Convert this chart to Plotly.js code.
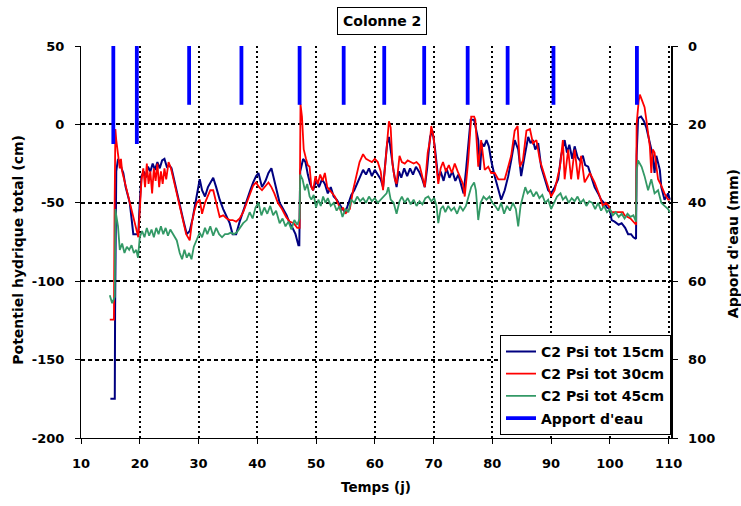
<!DOCTYPE html>
<html>
<head>
<meta charset="utf-8">
<script src="https://cdn.plot.ly/plotly-3.0.1.min.js"></script>
<style>html,body{margin:0;padding:0;background:#fff;}#chart{width:741px;height:506px;}</style>
</head>
<body>
<div id="chart"></div>
<script>
// Potentiel hydrique total (cm) — [jour, valeur]
const psi15 = [[15.0,-175],[15.75,-175],[15.8,-120],[15.85,-60],[16.0,-30],[16.3,-22],[16.6,-24],[16.9,-28],[17.2,-31],[17.6,-40],[18.0,-46],[18.3,-50],[18.6,-60],[18.9,-70],[19.3,-70],[19.75,-70],[20.0,-50],[20.3,-33],[20.7,-30],[21.0,-34],[21.4,-27],[21.8,-30],[22.2,-25],[22.6,-29],[23.0,-24],[23.4,-28],[23.8,-23],[24.2,-22],[24.6,-27],[25.0,-26],[25.4,-28],[25.8,-35],[26.3,-42],[26.8,-52],[27.4,-61],[28.0,-70],[28.5,-68],[29.0,-60],[29.4,-52],[29.7,-46],[30.2,-35],[30.6,-42],[31.1,-46],[31.6,-40],[32.0,-37],[32.5,-34],[33.0,-40],[33.6,-48],[34.2,-54],[34.8,-59],[35.3,-63],[35.8,-70],[36.4,-70],[37.0,-62],[37.6,-55],[38.2,-48],[38.8,-42],[39.3,-37],[39.8,-33],[40.2,-31],[40.8,-40],[41.4,-36],[41.9,-31],[42.4,-28],[42.9,-36],[43.3,-44],[43.8,-50],[44.4,-54],[45.0,-58],[45.5,-63],[46.0,-66],[46.5,-70],[47.0,-77],[47.15,-77],[47.3,-30],[47.8,-22],[48.2,-24],[48.6,-32],[49.0,-38],[49.5,-42],[50.0,-36],[50.5,-40],[51.0,-35],[51.5,-38],[52.0,-44],[52.5,-40],[53.0,-46],[53.5,-48],[54.0,-51],[54.5,-54],[55.0,-56],[55.5,-50],[56.0,-45],[56.5,-42],[57.0,-38],[57.5,-33],[58.0,-29],[58.5,-32],[59.0,-28],[59.5,-33],[60.0,-29],[60.5,-32],[61.0,-35],[61.4,-40],[61.8,-25],[62.1,-12],[62.4,-8],[62.8,-20],[63.2,-30],[63.7,-40],[64.1,-30],[64.5,-34],[65.0,-28],[65.5,-33],[66.0,-28],[66.5,-32],[67.0,-27],[67.5,-30],[68.0,-34],[68.5,-40],[68.9,-28],[69.4,-8],[69.8,-4],[70.2,-14],[70.8,-35],[71.2,-30],[71.7,-36],[72.2,-28],[72.7,-34],[73.2,-30],[73.7,-36],[74.2,-32],[74.7,-38],[75.1,-44],[75.5,-30],[75.9,-15],[76.3,3],[76.9,3],[77.3,-4],[77.6,-10],[77.9,-29],[78.2,-12],[78.6,-14],[79.0,-10],[79.4,-14],[79.8,-23],[80.4,-33],[81.0,-42],[81.5,-48],[82.1,-42],[82.7,-33],[83.2,-23],[83.8,-10],[84.4,-16],[84.9,-33],[85.5,-20],[86.1,-8],[86.5,-12],[86.9,-10],[87.3,-16],[87.8,-12],[88.3,-27],[88.9,-35],[89.5,-42],[90.0,-44],[90.6,-40],[91.2,-35],[91.7,-20],[92.3,-10],[92.7,-18],[93.1,-13],[93.6,-22],[94.0,-14],[94.5,-21],[94.9,-23],[95.4,-20],[95.8,-26],[96.3,-27],[96.8,-33],[97.4,-40],[98.0,-44],[98.5,-48],[99.0,-50],[99.5,-53],[100.0,-54],[100.3,-61],[100.8,-62],[101.5,-64],[102.0,-63],[102.6,-66],[103.1,-70],[103.6,-70],[104.0,-72],[104.45,-73],[104.55,-20],[104.8,4],[105.3,5],[105.8,2],[106.2,-2],[106.8,-12],[107.3,-20],[107.6,-31],[107.9,-20],[108.5,-29],[108.75,-40],[109.3,-48],[109.9,-44],[110.2,-48]];

const psi30 = [[14.9,-124.5],[15.6,-124.5],[15.7,-60],[15.85,-3],[16.0,-10],[16.2,-16],[16.4,-24],[16.6,-28],[16.8,-22],[17.0,-30],[19.75,-72],[20.0,-55],[20.3,-35],[20.6,-28],[20.9,-40],[21.2,-25],[21.5,-38],[21.8,-30],[22.1,-44],[22.4,-28],[22.7,-36],[23.0,-25],[23.3,-40],[23.6,-30],[23.9,-38],[24.2,-28],[24.5,-35],[24.9,-24],[25.3,-28],[25.8,-36],[26.3,-44],[26.8,-54],[27.4,-63],[27.9,-70],[28.5,-74],[28.9,-62],[29.3,-55],[29.7,-50],[30.2,-48],[30.6,-57],[31.1,-50],[31.6,-46],[32.0,-42],[32.5,-42],[33.0,-50],[33.6,-59],[34.2,-58],[34.8,-60],[35.3,-61],[35.8,-61],[36.4,-62],[37.0,-60],[37.6,-56],[38.2,-50],[38.8,-44],[39.3,-39],[39.8,-37],[40.3,-40],[40.8,-42],[41.4,-39],[41.9,-37],[42.4,-40],[42.9,-44],[43.5,-50],[44.2,-54],[44.9,-59],[45.5,-62],[46.2,-63],[46.8,-66],[47.2,-66],[47.35,13],[47.6,5],[47.9,-16],[48.3,-22],[48.6,-26],[48.9,-27],[49.2,-40],[49.5,-42],[49.9,-33],[50.3,-38],[50.7,-32],[51.1,-36],[51.5,-31],[51.9,-40],[52.3,-42],[52.8,-44],[53.2,-46],[53.7,-50],[54.2,-55],[54.6,-53],[55.0,-57],[55.4,-55],[55.75,-54],[56.3,-42],[56.9,-31],[57.4,-24],[58.0,-19],[58.5,-22],[59.0,-23],[59.5,-24],[60.0,-22],[60.5,-24],[61.0,-30],[61.4,-42],[61.9,-20],[62.2,-6],[62.4,2],[62.7,-2],[63.0,-25],[63.4,-35],[63.7,-38],[64.2,-20],[64.6,-24],[65.1,-25],[65.6,-23],[66.1,-24],[66.6,-25],[67.1,-24],[67.6,-26],[68.0,-32],[68.5,-40],[69.0,-18],[69.4,-10],[69.6,-1],[70.0,-8],[70.3,-20],[70.8,-38],[71.2,-28],[71.6,-24],[72.1,-30],[72.6,-26],[73.1,-31],[73.6,-25],[74.1,-30],[74.6,-35],[75.0,-38],[75.3,-46],[75.9,-23],[76.4,5],[76.9,5],[77.1,3],[77.6,-27],[78.1,-10],[78.7,-29],[79.3,-27],[79.8,-31],[80.4,-31],[81.0,-35],[81.5,-35],[82.1,-35],[82.7,-27],[83.2,-20],[83.8,-4],[84.3,-1],[84.7,-27],[85.2,-23],[85.8,-4],[86.4,-3],[86.9,-12],[87.5,-10],[88.1,-23],[88.9,-33],[89.5,-40],[90.0,-46],[90.6,-42],[91.5,-27],[92.0,-10],[92.3,-35],[92.9,-16],[93.4,-35],[94.0,-16],[94.6,-35],[95.1,-20],[95.7,-37],[96.6,-31],[97.4,-37],[98.3,-46],[98.8,-52],[99.3,-50],[99.8,-52],[100.2,-56],[102.2,-56],[102.5,-58],[103.5,-60],[104.45,-64],[104.55,0],[104.9,15],[105.1,19],[105.5,15],[105.9,11],[106.2,3],[106.8,-14],[107.05,-31],[107.3,-16],[107.6,-18],[108.2,-35],[108.75,-39],[109.3,-44],[109.9,-48],[110.2,-48]];

const psi45 = [[14.9,-109],[15.3,-114],[15.75,-110],[15.8,-90],[15.85,-54],[16.0,-58],[16.3,-65],[16.6,-80],[17.0,-76],[17.4,-82],[17.8,-78],[18.2,-80],[18.6,-77],[19.0,-82],[19.4,-80],[19.7,-85],[20.0,-72],[20.4,-68],[20.8,-72],[21.2,-66],[21.6,-71],[22.0,-67],[22.4,-72],[22.8,-66],[23.2,-70],[23.6,-65],[24.0,-70],[24.4,-66],[24.8,-71],[25.2,-67],[25.7,-70],[26.3,-74],[26.8,-82],[27.2,-86],[27.6,-80],[28.0,-85],[28.4,-82],[28.8,-86],[29.2,-78],[29.7,-73],[30.2,-69],[30.6,-72],[31.1,-66],[31.5,-70],[32.0,-65],[32.5,-71],[33.0,-66],[33.5,-70],[34.0,-72],[34.5,-70],[35.0,-70],[35.5,-69],[36.0,-70],[36.5,-69],[37.0,-66],[37.6,-63],[38.2,-61],[38.7,-56],[39.2,-60],[39.7,-53],[40.2,-50],[40.7,-58],[41.2,-53],[41.7,-57],[42.2,-52],[42.7,-58],[43.2,-55],[43.8,-63],[44.3,-60],[44.8,-65],[45.3,-62],[45.8,-67],[46.3,-61],[46.8,-64],[47.2,-60],[47.3,-32],[47.7,-35],[48.1,-42],[48.5,-38],[48.9,-46],[49.2,-48],[49.6,-45],[50.0,-53],[50.4,-48],[50.8,-52],[51.2,-46],[51.6,-50],[52.0,-47],[52.5,-52],[53.0,-50],[53.5,-55],[54.0,-52],[54.5,-59],[55.0,-54],[55.5,-56],[56.0,-48],[56.5,-50],[57.0,-46],[57.5,-49],[58.0,-47],[58.5,-50],[59.0,-46],[59.5,-49],[60.0,-47],[60.5,-50],[61.0,-48],[61.5,-46],[62.0,-44],[62.3,-40],[62.7,-48],[63.2,-50],[63.7,-57],[64.2,-49],[64.6,-46],[65.1,-50],[65.6,-47],[66.1,-51],[66.6,-48],[67.1,-52],[67.6,-49],[68.1,-51],[68.6,-47],[69.1,-46],[69.6,-49],[70.1,-47],[70.5,-52],[70.8,-63],[71.2,-54],[71.6,-52],[72.0,-56],[72.5,-52],[73.0,-55],[73.5,-53],[74.0,-57],[74.5,-52],[75.0,-55],[75.5,-52],[76.0,-45],[76.4,-40],[76.9,-37],[77.2,-42],[77.6,-61],[78.0,-50],[78.5,-46],[79.0,-48],[79.5,-46],[80.0,-50],[80.5,-52],[81.0,-55],[81.5,-50],[82.0,-57],[82.5,-52],[83.0,-55],[83.5,-50],[84.0,-54],[84.4,-65],[84.8,-52],[85.2,-46],[85.6,-40],[86.0,-44],[86.5,-42],[87.0,-46],[87.5,-43],[88.0,-47],[88.5,-45],[89.0,-50],[89.5,-48],[90.0,-54],[90.5,-50],[91.0,-46],[91.6,-44],[92.0,-48],[92.5,-46],[93.0,-50],[93.5,-47],[94.0,-49],[94.5,-46],[95.0,-50],[95.5,-48],[96.0,-52],[96.5,-49],[97.0,-50],[97.5,-54],[98.0,-50],[98.5,-55],[99.0,-52],[99.5,-56],[100.0,-54],[100.5,-58],[101.0,-56],[101.5,-59],[102.0,-57],[102.5,-60],[103.0,-57],[103.5,-59],[104.0,-58],[104.45,-62],[104.55,-30],[104.8,-23],[105.1,-25],[105.4,-27],[105.9,-33],[106.5,-42],[107.05,-35],[107.6,-44],[108.2,-42],[108.75,-50],[109.3,-52],[109.9,-54],[110.2,-56]];

// Apport d'eau (mm)
const apportDays = [15.5, 19.5, 28.4, 37.3, 47.2, 54.7, 61.6, 68.4, 75.8, 82.6, 90.4, 104.6];
const apportMm   = [25, 25, 15, 15, 15, 15, 15, 15, 15, 15, 15, 15];

const seriesNames = ['C2 Psi tot 15cm', 'C2 Psi tot 30cm', 'C2 Psi tot 45cm', "Apport d'eau"];
const xTicks = [10, 20, 30, 40, 50, 60, 70, 80, 90, 100, 110];
const yTicks = [-200, -150, -100, -50, 0, 50];
const y2Ticks = [0, 20, 40, 60, 80, 100];

const FONT = 'DejaVu Sans, Arial, sans-serif';
const bfont = (s) => ({family: FONT, size: s, color: '#000', weight: 700});

const barX = [], barY = [];
apportDays.forEach((d, i) => { barX.push(d, d, null); barY.push(0, apportMm[i], null); });

const traces = [
  {x: psi15.map(p => p[0]), y: psi15.map(p => p[1]), name: seriesNames[0], type: 'scatter', mode: 'lines',
   line: {color: '#000080', width: 2}, legendgroup: 'a'},
  {x: psi30.map(p => p[0]), y: psi30.map(p => p[1]), name: seriesNames[1], type: 'scatter', mode: 'lines',
   line: {color: '#FF0000', width: 1.8}, legendgroup: 'b'},
  {x: psi45.map(p => p[0]), y: psi45.map(p => p[1]), name: seriesNames[2], type: 'scatter', mode: 'lines',
   line: {color: '#339966', width: 1.8}, legendgroup: 'c'},
  {x: barX, y: barY, name: seriesNames[3], type: 'scatter', mode: 'lines', yaxis: 'y2',
   line: {color: '#0000FF', width: 3.8}, connectgaps: false, legendgroup: 'd'}
];

const layout = {
  width: 741, height: 506,
  margin: {l: 81, r: 70, t: 46, b: 68},
  paper_bgcolor: '#fff', plot_bgcolor: '#fff',
  font: bfont(13),
  showlegend: true,
  xaxis: {
    range: [10, 110.4], tickvals: xTicks, ticktext: xTicks.map(String),
    ticks: 'outside', ticklen: 5, tickwidth: 1, tickcolor: '#000',
    showline: true, linecolor: '#000', linewidth: 1,
    showgrid: true, gridcolor: '#000', gridwidth: 2, griddash: '2px,3px',
    zeroline: false, tickfont: bfont(13), ticklabelstandoff: 8,
    title: {text: 'Temps (j)', font: bfont(13.5), standoff: 12}
  },
  yaxis: {
    range: [-200, 50], tickvals: yTicks, ticktext: yTicks.map(String),
    ticks: 'outside', ticklen: 5, tickwidth: 1, tickcolor: '#000',
    showline: true, linecolor: '#000', linewidth: 1,
    showgrid: true, gridcolor: '#000', gridwidth: 2, griddash: '4px,3px',
    zeroline: false, tickfont: bfont(13), ticklabelstandoff: 8
  },
  yaxis2: {
    overlaying: 'y', side: 'right', anchor: 'x',
    range: [100, 0], tickvals: y2Ticks, ticktext: y2Ticks.map(String),
    ticks: 'outside', ticklen: 5, tickwidth: 1, tickcolor: '#000',
    showline: true, linecolor: '#000', linewidth: 1.5,
    showgrid: false, zeroline: false, tickfont: bfont(13), ticklabelstandoff: 8
  },
  legend: {
    x: 1, xanchor: 'right', y: 0.008, yanchor: 'bottom',
    bgcolor: '#fff', bordercolor: '#000', borderwidth: 1,
    font: bfont(14), traceorder: 'grouped', tracegroupgap: 1
  },
  annotations: [
    {text: 'Colonne 2', xref: 'paper', yref: 'paper', x: 0.51, y: 1.064,
     xanchor: 'center', yanchor: 'middle', showarrow: false,
     font: bfont(14), bordercolor: '#000', borderwidth: 1, borderpad: 5, bgcolor: '#fff'},
    {text: 'Potentiel hydrique total (cm)', xref: 'paper', yref: 'paper', x: -0.107, y: 0.48,
     xanchor: 'center', yanchor: 'middle', textangle: -90, showarrow: false, font: bfont(14)},
    {text: "Apport d'eau (mm)", xref: 'paper', yref: 'paper', x: 1.105, y: 0.497,
     xanchor: 'center', yanchor: 'middle', textangle: -90, showarrow: false, font: bfont(14)}
  ]
};

Plotly.newPlot('chart', traces, layout, {displayModeBar: false, staticPlot: true});
</script>
</body>
</html>
